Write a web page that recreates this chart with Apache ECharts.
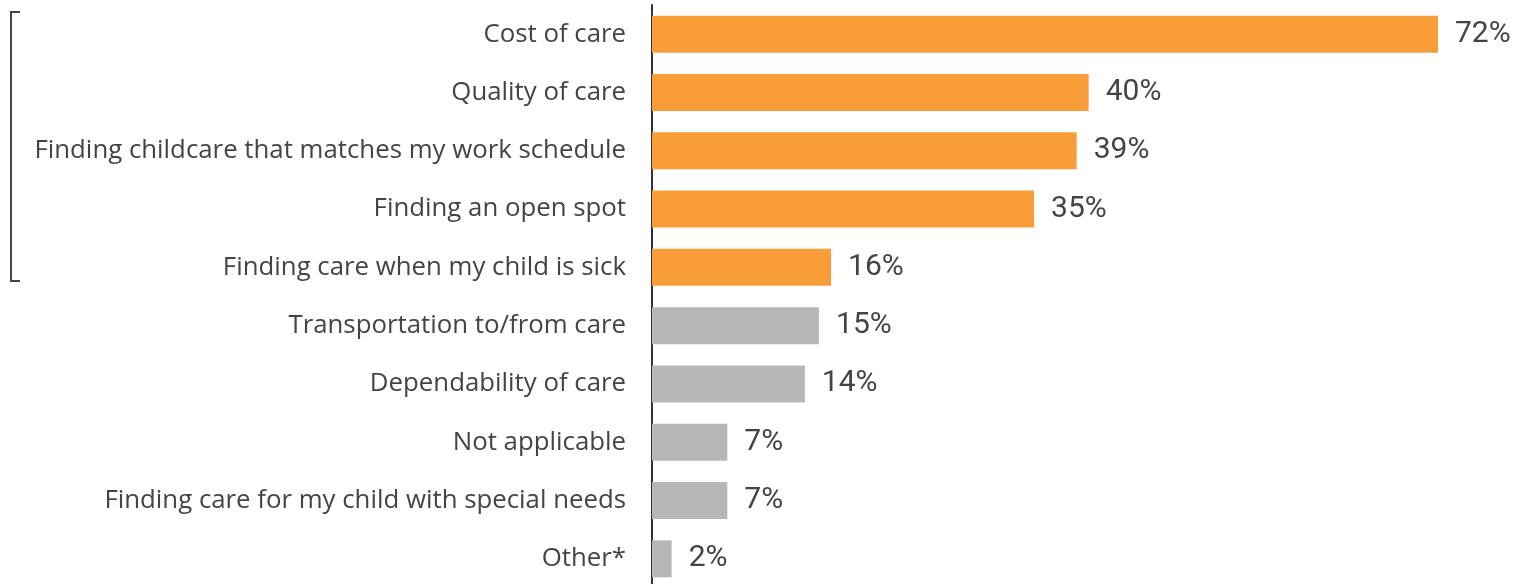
<!DOCTYPE html>
<html><head><meta charset="utf-8">
<script src="https://cdn.jsdelivr.net/npm/echarts@6/dist/echarts.min.js"></script>
<style>html,body{margin:0;padding:0;background:#fff}#c{width:1515px;height:584px}</style>
</head><body><div id="c"></div>
<script>
const categories = ["Cost of care","Quality of care","Finding childcare that matches my work schedule","Finding an open spot","Finding care when my child is sick","Transportation to/from care","Dependability of care","Not applicable","Finding care for my child with special needs","Other*"];
const values = [72, 40, 38.9, 35, 16.4, 15.3, 14, 6.9, 6.9, 1.8];
const valueLabels = ["72%","40%","39%","35%","16%","15%","14%","7%","7%","2%"];
const highlighted = [true,true,true,true,true,false,false,false,false,false];
const ORANGE = "#F99D38", GRAY = "#B7B7B7", TEXT = "#444444";
const chart = echarts.init(document.getElementById('c'), null, {renderer:'canvas'});
chart.setOption({
  animation:false,
  grid:{left:652, top:5, width:786, height:583, containLabel:false, outerBoundsMode:'none'},
  xAxis:{type:'value', min:0, max:72, show:false},
  yAxis:{type:'category', inverse:true, data:categories,
    axisLine:{show:true, lineStyle:{color:'#333', width:2}},
    axisTick:{show:false},
    axisLabel:{color:TEXT, fontSize:25.8, fontFamily:'Open Sans', margin:26}},
  series:[{type:'bar', barWidth:37,
    data: values.map((v,i)=>({value:v, itemStyle:{color: highlighted[i]?ORANGE:GRAY}})),
    label:{show:true, position:'right', distance:17, color:TEXT, fontSize:30, fontFamily:'Roboto',
      formatter:p=>valueLabels[p.dataIndex]}}],
  graphic:[{type:'polyline', shape:{points:[[20,12],[11,12],[11,281],[20,281]]},
    style:{stroke:'#444', lineWidth:2, fill:null}}]
});
</script></body></html>
